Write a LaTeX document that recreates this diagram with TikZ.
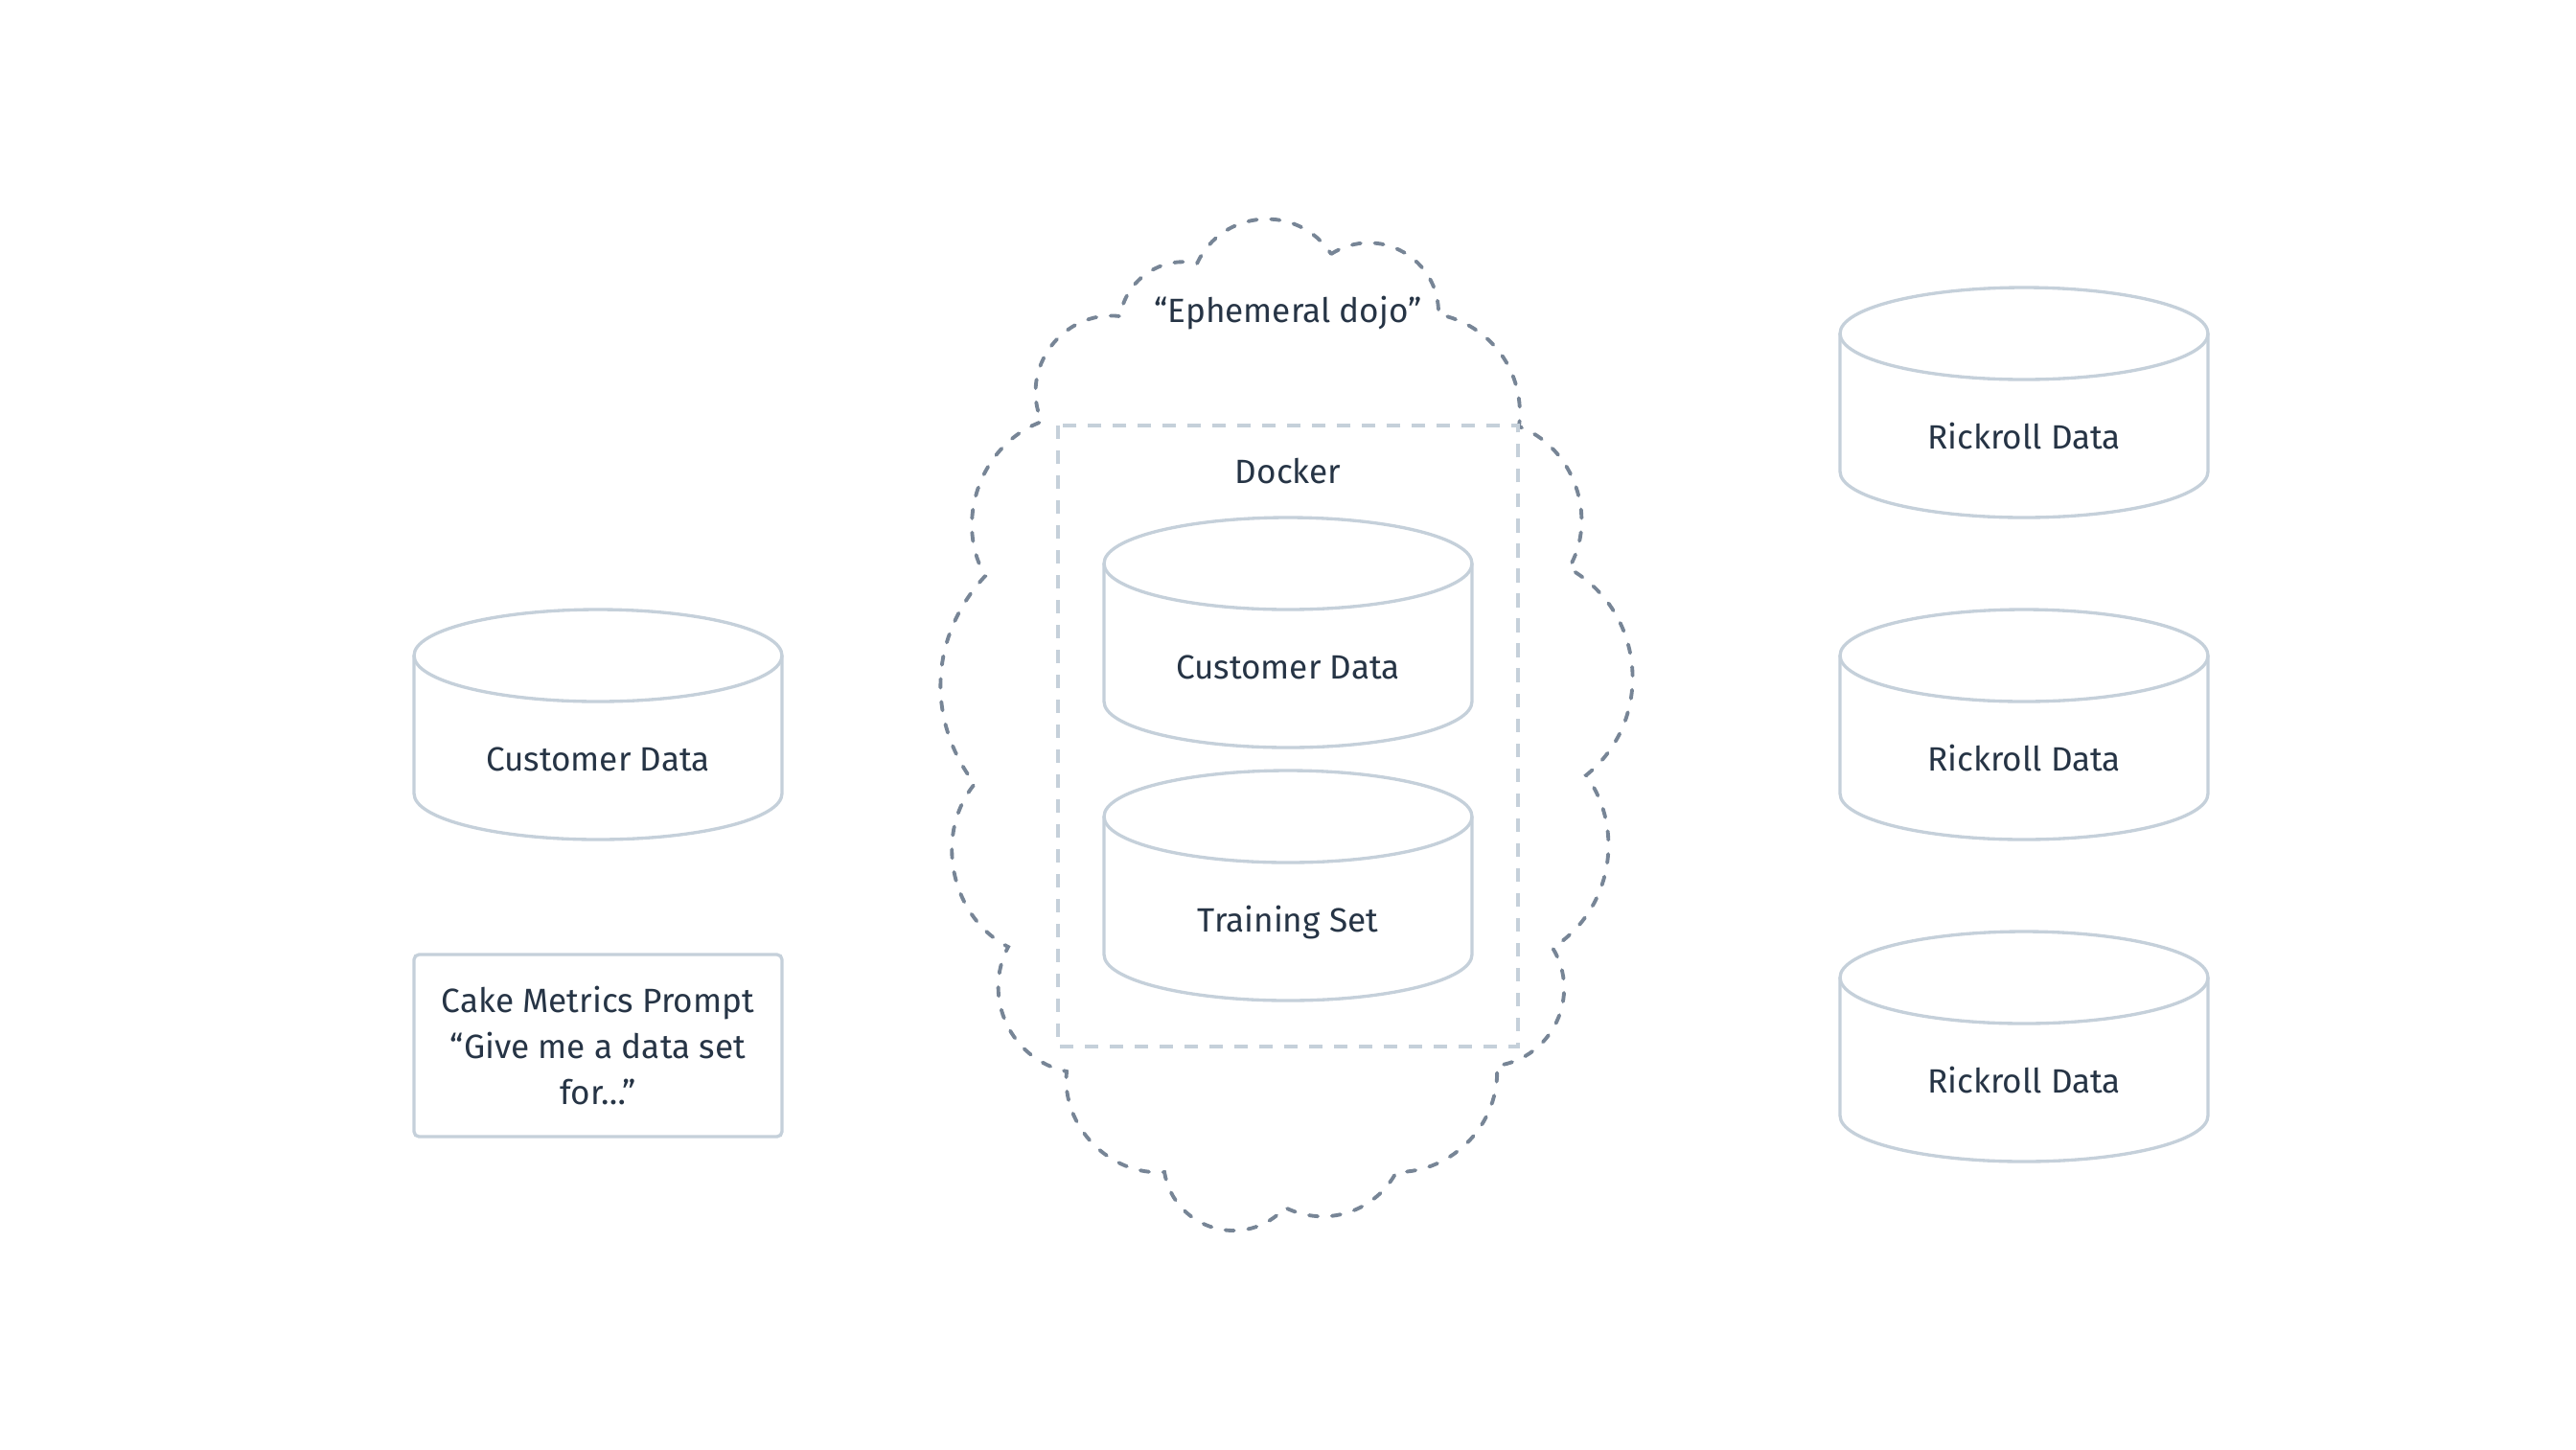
\documentclass[tikz,border=0pt]{standalone}
\usepackage{fontspec}
\setmainfont{Fira Sans}
\definecolor{inkblue}{HTML}{263445}
\definecolor{paleline}{HTML}{C5D0DA}
\definecolor{cloudgray}{HTML}{778596}

% one data store drawn as a cylinder, text sits under the top face
\newcommand{\datacyl}[4]{%
  \begin{scope}[shift={(#2,#3)}]
    \draw[cylline] (-1.92,0.72) -- (-1.92,-0.72) arc[start angle=180,end angle=360,x radius=1.92,y radius=0.48] -- (1.92,0.72);
    \draw[cylline] (0,0.72) ellipse[x radius=1.92,y radius=0.48];
    \node[lbl] (#1) at (0,-0.39) {#4};
  \end{scope}}

\begin{document}
\begin{tikzpicture}[
    cylline/.style={draw=paleline, line width=0.95pt},
    dockerline/.style={draw=paleline, line width=0.95pt, dash pattern=on 4pt off 3.4pt},
    cloudline/.style={draw=cloudgray, line width=1.1pt, line cap=round, dash pattern=on 2.6pt off 4.2pt},
    lbl/.style={text=inkblue, font=\fontsize{10}{13.6}\selectfont, text height=7.2pt, text depth=2pt}]
    \useasboundingbox (0,0) rectangle (26.88,-15.12);

    % the cloud
    \foreach \n/\px/\py in {1/13.89/-2.65, 2/15.01/-3.28, 3/15.85/-4.45, 4/16.37/-5.93,
        5/16.55/-8.09, 6/16.20/-9.89, 7/15.62/-11.12, 8/14.57/-12.23, 9/13.41/-12.60,
        10/12.15/-12.23, 11/11.13/-11.18, 12/10.52/-9.88, 13/10.17/-8.18, 14/10.28/-6.01,
        15/10.87/-4.40, 16/11.69/-3.30, 17/12.49/-2.75} {
        \coordinate (c\n) at (\px,\py);
    }
    \draw[cloudline] (c1) to[bend left=62,looseness=1.16] (c2) to[bend left=43] (c3)
        to[bend left=50] (c4) to[bend left=56,looseness=1.09] (c5) to[bend left=47] (c6)
        to[bend left=57,looseness=1.1] (c7) to[bend left=47] (c8) to[bend left=44] (c9)
        to[bend left=64,looseness=1.19] (c10) to[bend left=50] (c11)
        to[bend left=53,looseness=1.06] (c12) to[bend left=51] (c13) to[bend left=40] (c14)
        to[bend left=50] (c15) to[bend left=60,looseness=1.13] (c16) to[bend left=48] (c17)
        to[bend left=61,looseness=1.15] (c1);
    \node[lbl] (dojo) at (13.44,-3.27) {“Ephemeral dojo”};

    % docker box
    \draw[dockerline] (11.04,-4.44) rectangle (15.84,-10.92);
    \node[lbl] (docker) at (13.44,-4.95) {Docker};
    \datacyl{custin}{13.44}{-6.60}{Customer Data}
    \datacyl{train}{13.44}{-9.24}{Training Set}

    % left side
    \datacyl{custout}{6.24}{-7.56}{Customer Data}
    \node[draw=paleline, line width=0.95pt, rounded corners=1.5pt, minimum width=3.84cm, minimum height=1.9cm,
        text=inkblue, font=\fontsize{10}{13.6}\selectfont, align=center] (cake) at (6.24,-10.91)
        {Cake Metrics Prompt\\“Give me a data set\\for…”};

    % right side
    \foreach \i/\y in {1/-4.20, 2/-7.56, 3/-10.92} {
        \datacyl{rick\i}{21.12}{\y}{Rickroll Data}
    }
\end{tikzpicture}
\end{document}
